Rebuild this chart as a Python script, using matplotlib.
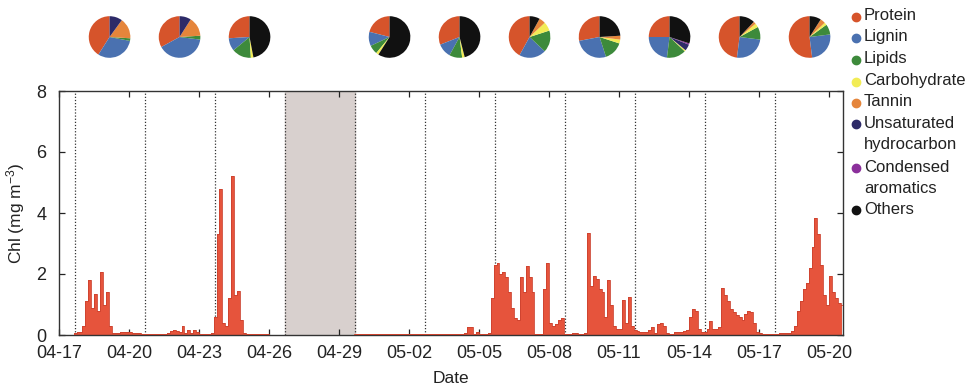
import numpy as np
import pandas as pd
import matplotlib
matplotlib.use('Agg')
import matplotlib.pyplot as plt
import matplotlib.dates as mdates
from matplotlib.lines import Line2D

plt.rcParams['font.family'] = ['Liberation Sans', 'DejaVu Sans']
plt.rcParams['mathtext.fontset'] = 'custom'
plt.rcParams['mathtext.rm'] = 'Liberation Sans'
plt.rcParams['mathtext.it'] = 'Liberation Sans:italic'
plt.rcParams['text.color'] = '#222222'
plt.rcParams['axes.labelcolor'] = '#222222'
plt.rcParams['xtick.color'] = '#222222'
plt.rcParams['ytick.color'] = '#222222'

nan = np.nan

# Chl (mg m-3), 3-hourly values, one row per day
chl = [
    0, 0, 0, 0, 0, 0.05, 0.1, 0.1,                      # 04-17
    0.3, 1.1, 1.8, 0.9, 1.35, 0.8, 2.05, 1.0,           # 04-18
    1.4, 0.3, 0.05, 0.05, 0.08, 0.1, 0.1, 0.1,          # 04-19
    0.1, 0.08, 0.06, 0.05, 0.03, 0.02, 0.02, 0.02,      # 04-20
    0.02, 0.02, 0.02, 0.02, 0.02, 0.05, 0.12, 0.15,     # 04-21
    0.12, 0.1, 0.3, 0.05, 0.15, 0.05, 0.15, 0.1,        # 04-22
    0.02, 0.02, 0.02, 0.02, 0.05, 0.6, 3.3, 4.8,        # 04-23
    0.4, 0.3, 1.2, 5.2, 1.3, 1.45, 0.5, 0.05,           # 04-24
    0.02, 0.02, 0.02, 0.02, 0.02, 0.02, 0.02, 0.02,     # 04-25
    0.01, 0.01, 0.01, 0.01, 0.01, 0.01, nan, nan,       # 04-26
    nan, nan, nan, nan, nan, nan, nan, nan,             # 04-27
    nan, nan, nan, nan, nan, nan, nan, nan,             # 04-28
    nan, nan, nan, nan, nan, 0.02, 0.02, 0.02,          # 04-29
    0.02, 0.02, 0.02, 0.02, 0.02, 0.02, 0.02, 0.02,     # 04-30
    0.02, 0.02, 0.02, 0.02, 0.02, 0.02, 0.02, 0.02,     # 05-01
    0.02, 0.02, 0.02, 0.02, 0.02, 0.02, 0.02, 0.02,     # 05-02
    0.02, 0.02, 0.02, 0.02, 0.02, 0.02, 0.02, 0.02,     # 05-03
    0.02, 0.02, 0.02, 0.05, 0.25, 0.25, 0.02, 0.1,      # 05-04
    0.02, 0.02, 0.02, 0.05, 1.2, 2.3, 2.35, 2.0,        # 05-05
    2.05, 1.9, 1.4, 0.9, 0.55, 0.5, 1.9, 1.4,           # 05-06
    2.25, 1.9, 1.4, 0.03, 0.02, 0.02, 1.5, 2.35,        # 05-07
    0.4, 0.3, 0.35, 0.5, 0.55, 0.02, 0.02, 0.02,        # 05-08
    0.05, 0.05, 0.02, 0.02, 0.05, 3.35, 1.6, 1.95,      # 05-09
    1.85, 1.5, 1.4, 0.6, 1.8, 1.0, 0.3, 0.2,            # 05-10
    0.2, 1.15, 0.4, 1.25, 0.3, 0.15, 0.12, 0.1,         # 05-11
    0.1, 0.1, 0.15, 0.25, 0.05, 0.35, 0.4, 0.3,         # 05-12
    0.05, 0.02, 0.02, 0.1, 0.1, 0.1, 0.12, 0.15,        # 05-13
    0.6, 0.85, 0.8, 0.2, 0.1, 0.1, 0.2, 0.45,           # 05-14
    0.2, 0.2, 0.25, 1.55, 1.3, 1.1, 0.85, 0.75,         # 05-15
    0.65, 0.6, 0.5, 0.7, 0.8, 0.75, 0.4, 0.1,           # 05-16
    0.05, 0.03, 0.03, 0.03, 0.03, 0.03, 0.03, 0.05,     # 05-17
    0.05, 0.05, 0.08, 0.12, 0.3, 0.8, 1.1, 1.5,         # 05-18
    1.7, 2.2, 2.9, 3.85, 3.3, 2.3, 1.3, 1.0,            # 05-19
    1.95, 1.4, 1.2, 1.05, 1.0,                          # 05-20
]

# pie composition for each 3-day sampling interval (the 4th interval has no data)
categories = ['Protein', 'Lignin', 'Lipids', 'Carbohydrate', 'Tannin',
              'Unsaturated\nhydrocarbon', 'Condensed\naromatics', 'Others']
protein      = [0.41, 0.33, 0.26, 0.21, 0.31, 0.42, 0.28, 0.25, 0.48, 0.52]
lignin       = [0.31, 0.40, 0.10, 0.11, 0.11, 0.21, 0.27, 0.23, 0.25, 0.25]
lipids       = [0.02, 0.03, 0.15, 0.07, 0.10, 0.17, 0.15, 0.15, 0.10, 0.08]
carbohydrate = [0.00, 0.00, 0.02, 0.02, 0.02, 0.07, 0.03, 0.01, 0.03, 0.02]
tannin       = [0.16, 0.15, 0.00, 0.00, 0.00, 0.05, 0.03, 0.00, 0.02, 0.04]
unsaturated  = [0.10, 0.09, 0.00, 0.00, 0.00, 0.00, 0.00, 0.05, 0.00, 0.00]
condensed    = [0.00, 0.00, 0.00, 0.00, 0.00, 0.00, 0.00, 0.01, 0.00, 0.00]
others       = [0.00, 0.00, 0.47, 0.59, 0.46, 0.08, 0.24, 0.30, 0.12, 0.09]
pie_colors = ['#d6542b', '#4a71b0', '#3d8a3b', '#f2ec55', '#e5853b',
              '#2d2a68', '#8b2f9b', '#111111']

t0 = pd.Timestamp('2016-04-17')
times = t0 + pd.to_timedelta(np.arange(len(chl)) * 3 + 1.5, unit='h')
tick_dates = pd.date_range(t0, periods=12, freq='3D')
sample_lines = pd.date_range(t0 + pd.Timedelta(hours=16), periods=11, freq='3D')
xmax = t0 + pd.Timedelta(days=33.6)

fig = plt.figure(figsize=(9.78, 3.88), dpi=100)
ax = fig.add_axes([59 / 978, 53 / 388, 784 / 978, 244 / 388])

ax.axvspan(sample_lines[3], sample_lines[4], color='#d8d0ce', zorder=0)
for d in sample_lines:
    ax.axvline(d, color='#333333', lw=0.9, ls=(0, (1, 1.5)), zorder=1)

y = np.array(chl, dtype=float)
ax.fill_between(times, 0, y, step='mid', color='#e6543c', lw=0, zorder=2)
ax.step(times, y, where='mid', color='#cc422e', lw=0.6, zorder=3)

ax.set_xlim(t0, xmax)
ax.set_ylim(0, 8)
ax.set_yticks([0, 2, 4, 6, 8])
ax.set_xticks(tick_dates)
ax.xaxis.set_major_formatter(mdates.DateFormatter('%m-%d'))
ax.tick_params(axis='both', direction='in', length=4, width=0.9,
               top=True, right=True, labelsize=13)
ax.tick_params(axis='y', pad=9)
ax.tick_params(axis='x', pad=7)
for s in ax.spines.values():
    s.set_color('#333333')
    s.set_linewidth(1.0)
ax.set_ylabel('Chl (mg m$^{-3}$)', fontsize=12.5, labelpad=7)
ax.set_xlabel('Date', fontsize=12.5, labelpad=7)

# pies above each sampling interval
comps = [protein, lignin, lipids, carbohydrate, tannin, unsaturated, condensed, others]
pie_days = [sample_lines[i] + pd.Timedelta(days=1.5) for i in range(11) if i != 3]
inv = fig.transFigure.inverted()
for k, d in enumerate(pie_days):
    px = ax.transData.transform((mdates.date2num(d), 0))
    fx = inv.transform(px)[0]
    pax = fig.add_axes([fx - 26 / 978, 1 - 63 / 388, 52 / 978, 52 / 388])
    fr = [c[k] for c in comps]
    pax.pie(fr, colors=pie_colors, startangle=90, counterclock=True,
            wedgeprops=dict(linewidth=0))

# legend
leg_y = [17, 38, 60, 82, 103, 124, 168, 210]
for lab, col, yy in zip(categories, pie_colors, leg_y):
    fy = 1 - yy / 388
    fig.add_artist(Line2D([856 / 978], [fy], marker='o', ms=6, color=col,
                          transform=fig.transFigure))
    fig.text(864 / 978, fy + 8.5 / 388, lab, fontsize=12, va='top', ha='left',
             linespacing=1.55)

fig.savefig('out.png', dpi=100)
